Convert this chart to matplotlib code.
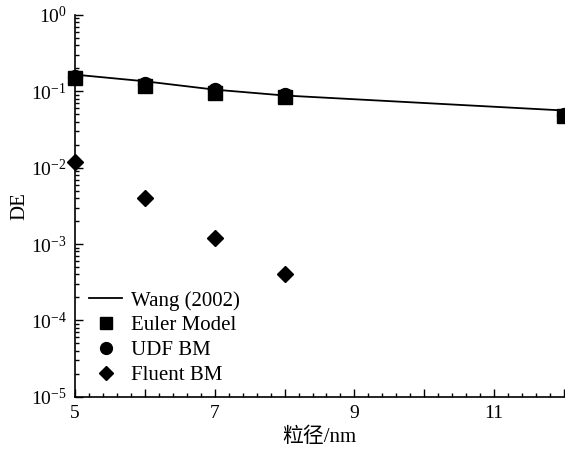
import matplotlib.pyplot as plt
import numpy as np
from matplotlib.ticker import MultipleLocator, FuncFormatter, LogLocator, NullFormatter

plt.rcParams['font.family'] = ['Liberation Serif', 'Noto Sans CJK SC']
plt.rcParams['mathtext.fontset'] = 'stix'

# data
wang_x = [5, 6, 7, 8, 12]
wang_y = [0.165, 0.135, 0.105, 0.088, 0.056]

euler_x = [5, 6, 7, 8, 12]
euler_y = [0.148, 0.118, 0.096, 0.083, 0.047]

udf_x = [5, 6, 7, 8, 12]
udf_y = [0.152, 0.124, 0.104, 0.090, 0.049]

fluent_x = [5, 6, 7, 8]
fluent_y = [0.012, 0.004, 0.0012, 0.0004]

fig = plt.figure(figsize=(5.65, 4.5), dpi=100)
ax = fig.add_axes([0.133, 0.118, 0.865, 0.849])

ax.plot(wang_x, wang_y, 'k-', lw=1.3, label='Wang (2002)')
ax.plot(udf_x, udf_y, 'ko', ms=10, ls='none', label='UDF BM', clip_on=False, zorder=3)
ax.plot(euler_x, euler_y, 'ks', ms=10, ls='none', label='Euler Model', clip_on=False, zorder=4)
ax.plot(fluent_x, fluent_y, 'kD', ms=8, ls='none', label='Fluent BM', clip_on=False, zorder=4)

ax.set_yscale('log')
ax.set_xlim(5, 12)
ax.set_ylim(1e-5, 1)

ax.xaxis.set_major_locator(MultipleLocator(1))
ax.xaxis.set_minor_locator(MultipleLocator(0.2))
ax.xaxis.set_major_formatter(FuncFormatter(lambda v, p: '%d' % v if int(round(v)) % 2 == 1 else ''))
ax.yaxis.set_major_locator(LogLocator(base=10, numticks=10))
ax.yaxis.set_minor_locator(LogLocator(base=10, subs=np.arange(2, 10), numticks=20))
ax.yaxis.set_minor_formatter(NullFormatter())

ax.tick_params(which='both', direction='in', labelsize=14)
ax.tick_params(which='major', length=6, width=1, pad=6)
ax.tick_params(which='minor', length=3, width=1)

ax.spines['top'].set_visible(False)
ax.spines['right'].set_visible(False)
ax.spines['left'].set_linewidth(1.2)
ax.spines['bottom'].set_linewidth(1.2)

ax.set_xlabel('粒径/nm', fontsize=15, labelpad=4)
ax.set_ylabel('DE', fontsize=15, labelpad=1)

h, l = ax.get_legend_handles_labels()
order = [0, 2, 1, 3]
ax.legend([h[i] for i in order], [l[i] for i in order], loc='lower left',
          bbox_to_anchor=(-0.01, -0.018), frameon=False, fontsize=15,
          handlelength=1.6, handletextpad=0.4, labelspacing=0.25, markerscale=0.85)

fig.savefig('out.png', dpi=100)
